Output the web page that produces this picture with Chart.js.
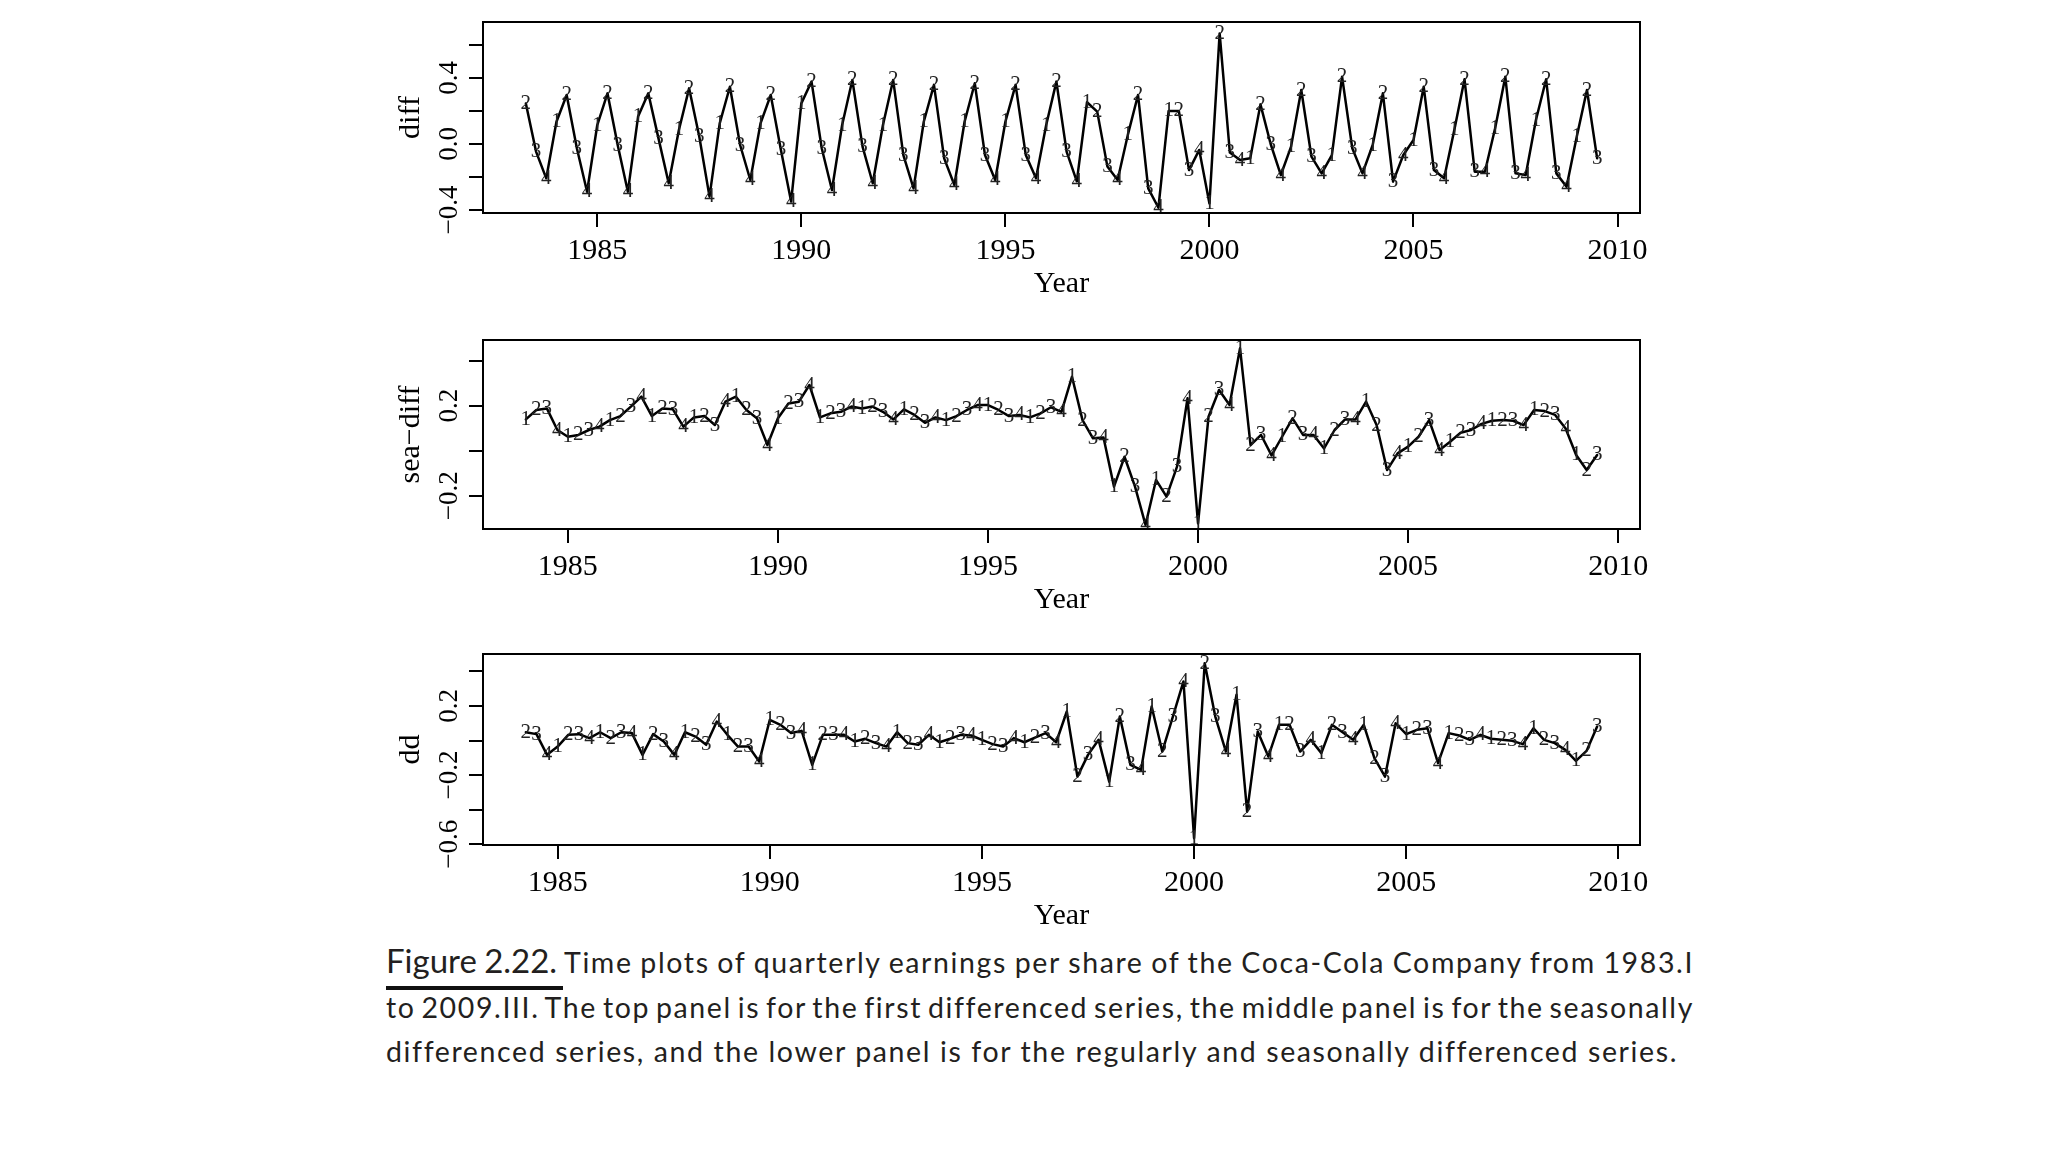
<!DOCTYPE html>
<html><head><meta charset="utf-8">
<script src="https://cdn.jsdelivr.net/npm/chart.js@4.4.0/dist/chart.umd.min.js"></script>
<style>
html,body{margin:0;padding:0;background:#fff;width:2048px;height:1152px;overflow:hidden;}
canvas{position:absolute;}
.cap{position:absolute;left:386px;font-family:Lato,sans-serif;font-size:28.5px;line-height:1.2;color:#231f20;white-space:nowrap;}
.fig{font-size:33px;letter-spacing:0px;}
#uline{position:absolute;left:386px;top:986px;width:177px;height:4px;background:#111;}
</style></head><body>
<canvas id="c1" width="1400" height="310" style="left:300px;top:0px"></canvas>
<canvas id="c2" width="1400" height="300" style="left:300px;top:320px"></canvas>
<canvas id="c3" width="1400" height="300" style="left:300px;top:630px"></canvas>
<div class="cap" id="l1" style="top:939px"><span class="fig">Figure 2.22.</span> Time plots of quarterly earnings per share of the Coca-Cola Company from 1983.I</div>
<div id="uline"></div>
<div class="cap" id="l2" style="top:990px">to 2009.III. The top panel is for the first differenced series, the middle panel is for the seasonally</div>
<div class="cap" id="l3" style="top:1034px">differenced series, and the lower panel is for the regularly and seasonally differenced series.</div>
<script>
// ---- data ----
const diffStart = 1983.25, diffFirstQuarter = 2;
const diffValues = [
  0.246, -0.046, -0.208,
  0.135, 0.297, -0.026, -0.289,
  0.115, 0.307, -0.006, -0.289,
  0.166, 0.307, 0.034, -0.238,
  0.085, 0.337, 0.044, -0.319,
  0.125, 0.347, -0.006, -0.218,
  0.125, 0.297, -0.036, -0.349,
  0.246, 0.378, -0.026, -0.279,
  0.115, 0.388, -0.016, -0.238,
  0.115, 0.388, -0.067, -0.269,
  0.135, 0.358, -0.087, -0.248,
  0.135, 0.368, -0.067, -0.218,
  0.135, 0.358, -0.067, -0.208,
  0.115, 0.378, -0.046, -0.226,
  0.253, 0.196, -0.137, -0.218,
  0.055, 0.297, -0.269, -0.386,
  0.200, 0.200, -0.158, -0.036,
  -0.360, 0.670, -0.052, -0.097,
  -0.087, 0.240, 0.000, -0.188,
  -0.016, 0.327, -0.077, -0.178,
  -0.067, 0.408, -0.026, -0.178,
  -0.006, 0.307, -0.228, -0.067,
  0.024, 0.347, -0.158, -0.208,
  0.085, 0.392, -0.168, -0.168,
  0.095, 0.408, -0.178, -0.188,
  0.145, 0.392, -0.178, -0.259,
  0.044, 0.327, -0.087
];
const seaDiffStart = 1984.0, seaDiffFirstQuarter = 1;
const seaDiffValues = [
  0.139, 0.181, 0.188, 0.092,
  0.062, 0.070, 0.092, 0.107,
  0.136, 0.154, 0.196, 0.240,
  0.154, 0.188, 0.184, 0.107,
  0.148, 0.154, 0.114, 0.218,
  0.240, 0.181, 0.144, 0.025,
  0.144, 0.210, 0.218, 0.292,
  0.148, 0.166, 0.173, 0.196,
  0.188, 0.196, 0.173, 0.139,
  0.184, 0.159, 0.124, 0.148,
  0.136, 0.154, 0.181, 0.203,
  0.203, 0.181, 0.154, 0.159,
  0.148, 0.166, 0.193, 0.173,
  0.329, 0.136, 0.055, 0.059,
  -0.160, -0.027, -0.160, -0.330,
  -0.130, -0.204, -0.071, 0.233,
  -0.323, 0.151, 0.270, 0.203,
  0.455, 0.025, 0.070, -0.021,
  0.062, 0.144, 0.070, 0.070,
  0.010, 0.092, 0.139, 0.139,
  0.218, 0.114, -0.086, -0.012,
  0.018, 0.062, 0.136, 0.003,
  0.040, 0.080, 0.092, 0.119,
  0.133, 0.136, 0.133, 0.114,
  0.181, 0.176, 0.159, 0.099,
  -0.019, -0.086, -0.019
];
const ddStart = 1984.25, ddFirstQuarter = 2;
const ddValues = [
  0.048, 0.037, -0.083,
  -0.035, 0.033, 0.037, 0.014,
  0.048, 0.014, 0.048, 0.043,
  -0.083, 0.037, -0.006, -0.083,
  0.048, 0.023, -0.025, 0.110,
  0.033, -0.035, -0.035, -0.122,
  0.120, 0.091, 0.043, 0.056,
  -0.141, 0.033, 0.033, 0.033,
  -0.006, 0.010, -0.015, -0.035,
  0.048, -0.015, -0.025, 0.033,
  -0.010, 0.010, 0.033, 0.029,
  0.004, -0.021, -0.035, 0.014,
  -0.010, 0.017, 0.043, -0.010,
  0.168, -0.209, -0.083, 0.004,
  -0.238, 0.139, -0.141, -0.170,
  0.197, -0.064, 0.139, 0.342,
  -0.566, 0.448, 0.139, -0.064,
  0.265, -0.412, 0.052, -0.093,
  0.091, 0.091, -0.064, 0.004,
  -0.073, 0.091, 0.048, 0.004,
  0.091, -0.102, -0.209, 0.100,
  0.037, 0.062, 0.071, -0.131,
  0.043, 0.029, 0.004, 0.033,
  0.010, 0.004, -0.002, -0.021,
  0.071, 0.004, -0.015, -0.054,
  -0.118, -0.060, 0.081
];
const xTickYears = [1985, 1990, 1995, 2000, 2005, 2010];
const diffYTicks = [-0.4, -0.2, 0, 0.2, 0.4, 0.6];
const diffYLabels = [-0.4, 0, 0.4];
const seaDiffYTicks = [-0.2, 0, 0.2, 0.4];
const seaDiffYLabels = [-0.2, 0.2];
const ddYTicks = [-0.6, -0.4, -0.2, 0, 0.2, 0.4];
const ddYLabels = [-0.6, -0.2, 0.2];
const xTitle = 'Year';

// ---- drawing ----
function fmt(v){ const s = Math.abs(v).toFixed(1); return (v < -1e-9 ? '\u2212' : '') + s; }

function makePanel(id, cfg){
  const canvas = document.getElementById(id);
  const H = canvas.height;
  const pts = cfg.values.map((v, i) => ({x: cfg.start + i / 4, y: v}));
  const decor = {
    id: 'decor' + id,
    afterDatasetsDraw(chart){
      const ctx = chart.ctx, a = chart.chartArea;
      const meta = chart.getDatasetMeta(0);
      ctx.save();
      ctx.beginPath(); ctx.rect(a.left, a.top, a.right - a.left, a.bottom - a.top); ctx.clip();
      ctx.fillStyle = '#222';
      ctx.font = '21px "Liberation Serif"';
      ctx.textAlign = 'center'; ctx.textBaseline = 'middle';
      meta.data.forEach((p, i) => {
        const q = ((cfg.firstQuarter - 1 + i) % 4) + 1;
        ctx.fillText(String(q), p.x, p.y);
      });
      ctx.restore();
    },
    afterDraw(chart){
      const ctx = chart.ctx, a = chart.chartArea, ys = chart.scales.y;
      ctx.save();
      ctx.strokeStyle = '#000'; ctx.lineWidth = 2;
      ctx.strokeRect(a.left, a.top, a.right - a.left, a.bottom - a.top);
      ctx.fillStyle = '#000';
      ctx.textAlign = 'center'; ctx.textBaseline = 'middle';
      ctx.font = '27px "Liberation Serif"';
      cfg.yLabels.forEach(v => {
        const y = ys.getPixelForValue(v);
        ctx.save(); ctx.translate(a.left - 33, y); ctx.rotate(-Math.PI / 2);
        ctx.fillText(fmt(v), 0, 0); ctx.restore();
      });
      ctx.font = '30px "Liberation Serif"';
      ctx.save(); ctx.translate(a.left - 72, (a.top + a.bottom) / 2); ctx.rotate(-Math.PI / 2);
      ctx.fillText(cfg.yTitle, 0, 0); ctx.restore();
      ctx.textBaseline = 'alphabetic';
      ctx.fillText(xTitle, (a.left + a.right) / 2, a.bottom + 79);
      ctx.restore();
    }
  };
  new Chart(canvas, {
    type: 'line',
    data: {datasets: [{data: pts, borderColor: '#000', borderWidth: 2.5, pointRadius: 0,
      tension: 0, fill: false, borderJoinStyle: 'round', borderCapStyle: 'round'}]},
    options: {
      responsive: false, animation: false, devicePixelRatio: 1,
      layout: {padding: {left: 0, right: 60, top: cfg.top, bottom: 0}},
      plugins: {legend: {display: false}, tooltip: {enabled: false}, title: {display: false}},
      scales: {
        x: {type: 'linear', min: cfg.xMin, max: cfg.xMax,
          afterBuildTicks: s => { s.ticks = xTickYears.map(v => ({value: v})); },
          afterFit: s => { s.height = H - cfg.top - cfg.h; },
          ticks: {autoSkip: false, maxRotation: 0, minRotation: 0, padding: 6, color: '#000',
            font: {family: 'Liberation Serif', size: 30}, callback: v => String(v)},
          grid: {drawOnChartArea: false, drawTicks: true, tickLength: 14, color: '#000', lineWidth: 2},
          border: {display: true, color: '#000', width: 2}},
        y: {type: 'linear', min: cfg.yMin, max: cfg.yMax,
          afterBuildTicks: s => { s.ticks = cfg.yTicks.map(v => ({value: v})); },
          afterFit: s => { s.width = 183; },
          ticks: {display: false},
          grid: {drawOnChartArea: false, drawTicks: true, tickLength: 14, color: '#000', lineWidth: 2},
          border: {display: true, color: '#000', width: 2}}
      }
    },
    plugins: [decor]
  });
}

makePanel('c1', {values: diffValues, start: diffStart, firstQuarter: diffFirstQuarter,
  xMin: 1982.2, xMax: 2010.55, yMin: -0.418, yMax: 0.739, yTicks: diffYTicks, yLabels: diffYLabels,
  yTitle: 'diff', top: 22, h: 191});
makePanel('c2', {values: seaDiffValues, start: seaDiffStart, firstQuarter: seaDiffFirstQuarter,
  xMin: 1982.98, xMax: 2010.52, yMin: -0.348, yMax: 0.492, yTicks: seaDiffYTicks, yLabels: seaDiffYLabels,
  yTitle: 'sea\u2212diff', top: 20, h: 189});
makePanel('c3', {values: ddValues, start: ddStart, firstQuarter: ddFirstQuarter,
  xMin: 1983.24, xMax: 2010.51, yMin: -0.605, yMax: 0.501, yTicks: ddYTicks, yLabels: ddYLabels,
  yTitle: 'dd', top: 24, h: 191});

// caption: widen letter spacing so the last (unjustified) line has the reference width,
// then justify lines 1 and 2 to the full measure
(function(){
  const ids = ['l1','l2','l3'];
  const l3 = document.getElementById('l3');
  const w3 = l3.getBoundingClientRect().width;
  const n3 = l3.textContent.length;
  const ls = Math.max(-1, Math.min(2.5, (1290 - w3) / n3));
  ids.forEach(id => { document.getElementById(id).style.letterSpacing = ls + 'px'; });
  function justify(id, target){
    const el = document.getElementById(id);
    el.style.wordSpacing = '0px';
    const w = el.getBoundingClientRect().width;
    const spaces = (el.textContent.match(/ /g) || []).length;
    if (spaces) el.style.wordSpacing = ((target - w) / spaces) + 'px';
  }
  justify('l1', 1308); justify('l2', 1308);
  const base = [973, 1018, 1062];
  ids.forEach((id, k) => {
    const el = document.getElementById(id);
    const probe = document.createElement('span');
    probe.style.display = 'inline-block'; probe.style.width = '0px'; probe.style.height = '0px';
    probe.style.verticalAlign = 'baseline';
    el.appendChild(probe);
    const r = probe.getBoundingClientRect();
    const elr = el.getBoundingClientRect();
    el.style.top = (elr.top + (base[k] - r.bottom)) + 'px';
    el.removeChild(probe);
  });
})();
</script>
</body></html>
